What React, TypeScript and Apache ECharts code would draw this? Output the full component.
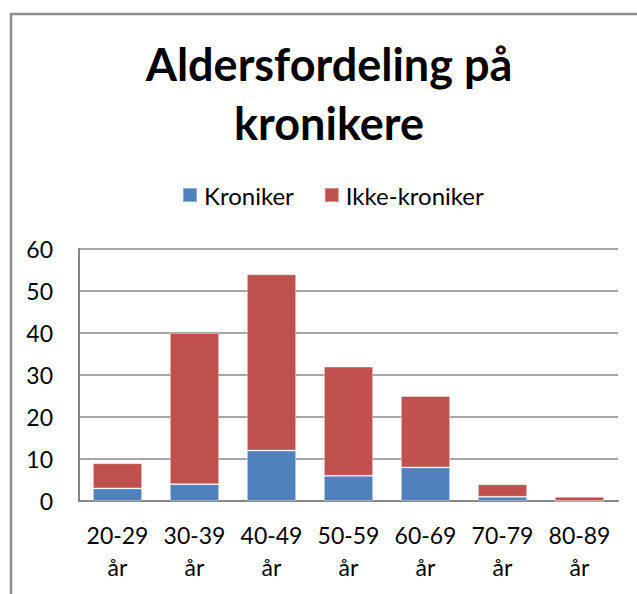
import React, { useEffect, useRef } from "react";
import * as echarts from "echarts";

const categories = ["20-29\når", "30-39\når", "40-49\når", "50-59\når", "60-69\når", "70-79\når", "80-89\når"];
const kroniker = [3, 4, 12, 6, 8, 1, 0];
const ikkeKroniker = [6, 36, 42, 26, 17, 3, 1];
const titleText = "Aldersfordeling på\nkronikere";

const FONT = "Lato, 'Open Sans', sans-serif";

export default function App() {
  const ref = useRef<HTMLDivElement>(null);
  useEffect(() => {
    if (!ref.current) return;
    const chart = echarts.init(ref.current, undefined, { renderer: "svg" });
    chart.setOption({
      animation: false,
      backgroundColor: "#ffffff",
      graphic: [
        {
          type: "polyline",
          shape: { points: [[11, 594], [11, 14], [637, 14]] },
          style: { stroke: "#8c8c8c", lineWidth: 2.5, fill: "none" },
          silent: true,
        },
        {
          type: "text",
          x: 329,
          y: 34,
          style: {
            text: titleText,
            align: "center",
            verticalAlign: "top",
            fontFamily: FONT,
            fontWeight: "bold",
            fontSize: 45,
            lineHeight: 59,
            fill: "#000000",
          },
        },
      ],
      legend: {
        left: 182,
        top: 181,
        padding: 0,
        itemWidth: 14,
        itemHeight: 14,
        itemGap: 30,
        icon: "rect",
        textStyle: { fontFamily: FONT, fontSize: 24, lineHeight: 28, color: "#000", padding: [0, 0, 0, 2] },
        data: ["Kroniker", "Ikke-kroniker"],
      },
      grid: { left: 79, right: 19, top: 249, bottom: 93, containLabel: false },
      xAxis: {
        type: "category",
        data: categories,
        axisTick: { show: false },
        axisLine: { show: true, lineStyle: { color: "#868686", width: 2 } },
        axisLabel: {
          interval: 0,
          margin: 18,
          fontFamily: FONT,
          fontSize: 23,
          lineHeight: 32,
          color: "#000",
          align: "center",
        },
      },
      yAxis: {
        type: "value",
        min: 0,
        max: 60,
        interval: 10,
        axisTick: { show: false },
        axisLine: { show: true, lineStyle: { color: "#868686", width: 2 } },
        splitLine: { show: true, lineStyle: { color: "#8a8a8a", width: 1.5 } },
        axisLabel: { margin: 26, fontFamily: FONT, fontSize: 23, color: "#000" },
      },
      series: [
        {
          name: "Kroniker",
          type: "bar",
          stack: "total",
          barWidth: "64%",
          data: kroniker,
          itemStyle: { color: "#4F81BD", borderColor: "rgba(255,255,255,0.35)", borderWidth: 1 },
        },
        {
          name: "Ikke-kroniker",
          type: "bar",
          stack: "total",
          barWidth: "64%",
          data: ikkeKroniker,
          itemStyle: { color: "#C0504D", borderColor: "rgba(255,255,255,0.35)", borderWidth: 1 },
        },
      ],
    });
    return () => chart.dispose();
  }, []);
  return (
    <div
      ref={ref}
      style={{ position: "fixed", left: 0, top: 0, width: 637, height: 594 }}
    />
  );
}
